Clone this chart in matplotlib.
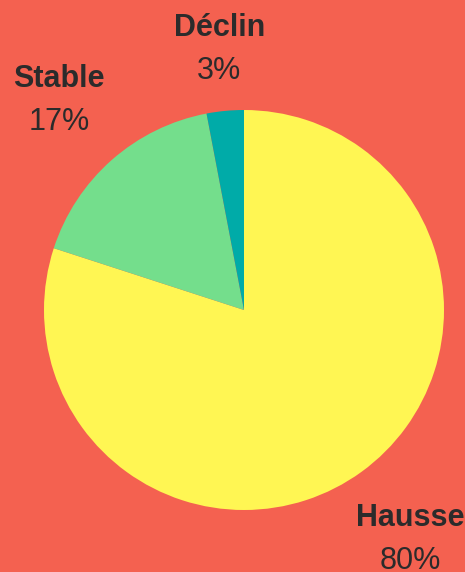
import numpy as np
import matplotlib
matplotlib.use("Agg")
import matplotlib.pyplot as plt

categories = ["Hausse", "Stable", "Déclin"]
values = [80, 17, 3]
colors = ["#FFF653", "#74DE8C", "#00ABA8"]
bg = "#F46150"
text_color = "#2B2B2B"

W, H, DPI = 465, 572, 100
fig = plt.figure(figsize=(W / DPI, H / DPI), dpi=DPI, facecolor=bg)
ax = fig.add_axes([0, 0, 1, 1])
ax.set_facecolor(bg)
cx, cy, scale = 244, 310, 200.0  # pixel centre and px per unit
ax.axis("off")

wedges, _ = ax.pie(values, colors=colors, startangle=90, counterclock=False,
                   radius=1, center=(0, 0), wedgeprops=dict(linewidth=0))
ax.set_xlim(-cx / scale, (W - cx) / scale)
ax.set_ylim(-(H - cy) / scale, cy / scale)
ax.set_aspect("auto")

fig.canvas.draw()
renderer = fig.canvas.get_renderer()
gap = 0.1075
for w, name, v in zip(wedges, categories, values):
    theta = np.deg2rad((w.theta1 + w.theta2) / 2)
    t1 = ax.text(0, 0, name, fontsize=22, fontweight="bold", color=text_color,
                 ha="center", va="center", family=["Liberation Sans", "DejaVu Sans"])
    t2 = ax.text(0, 0, f"{v}%", fontsize=22, color=text_color,
                 ha="center", va="center", family=["Liberation Sans", "DejaVu Sans"])
    b1 = t1.get_window_extent(renderer)
    b2 = t2.get_window_extent(renderer)
    hw = max(b1.width, b2.width) / 2 / scale
    hh = 0.17
    d = 1.12 + hw * abs(np.cos(theta)) + hh * abs(np.sin(theta))
    x, y = d * np.cos(theta), d * np.sin(theta)
    t1.set_position((x, y + gap))
    t2.set_position((x, y - gap))

fig.savefig("out.png", dpi=DPI, facecolor=bg)
